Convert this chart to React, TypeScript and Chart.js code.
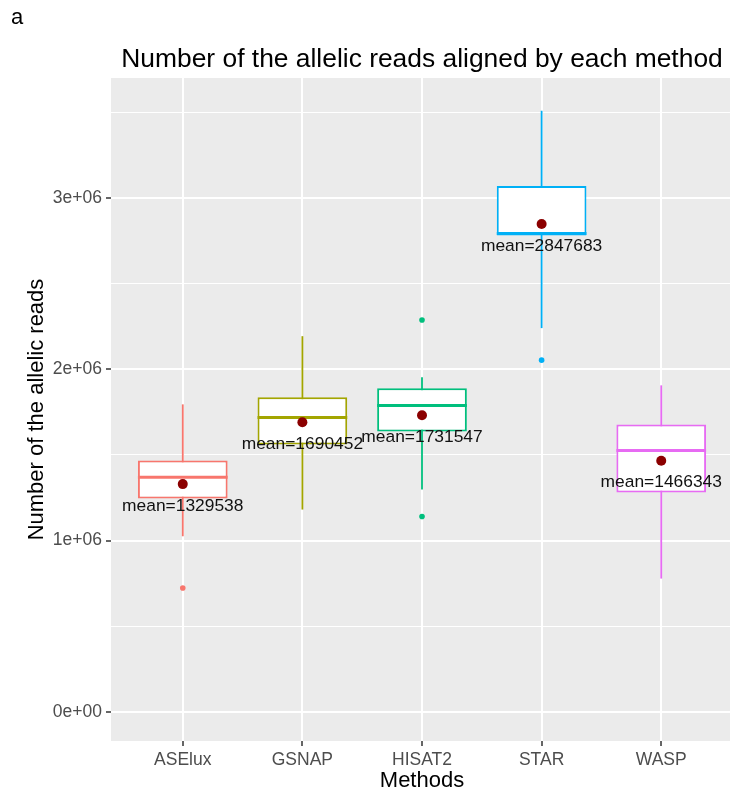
import React, { useEffect, useRef } from "react";
import { Chart, registerables } from "chart.js";

Chart.register(...registerables);

// ---- data ----
const METHODS = ["ASElux", "GSNAP", "HISAT2", "STAR", "WASP"];
const COLORS = ["#F8766D", "#A3A500", "#00BF7D", "#00B0F6", "#E76BF3"];
const WHISKER_LOW = [1025000, 1181000, 1298000, 2240000, 778000];
const Q1 = [1246000, 1561000, 1637000, 2780000, 1281000];
const MEDIAN = [1370000, 1719000, 1789000, 2792000, 1526000];
const Q3 = [1468000, 1836000, 1889000, 3070000, 1678000];
const WHISKER_HIGH = [1795000, 2193000, 1953000, 3509000, 1906000];
const OUTLIERS = [[723000], [], [2287000, 1140000], [2053000], []];
const MEANS = [1329538, 1690452, 1731547, 2847683, 1466343];
const Y_MAJOR = [0, 1000000, 2000000, 3000000];
const Y_MAJOR_LABELS = ["0e+00", "1e+06", "2e+06", "3e+06"];
const Y_MINOR = [500000, 1500000, 2500000, 3500000];

const TITLE = "Number of the allelic reads aligned by each method";
const X_TITLE = "Methods";
const Y_TITLE = "Number of the allelic reads";
const PANEL_TAG = "a";

// ---- style ----
const FONT = '"Liberation Sans", Arial, sans-serif';
const BOX_HALF = 0.375;
const PANEL_BG = "#EBEBEB";
const TICK_TEXT = "#4D4D4D";

const decorPlugin = {
  id: "decor",
  beforeDraw(chart: any) {
    const { ctx, chartArea } = chart;
    ctx.save();
    ctx.fillStyle = PANEL_BG;
    ctx.fillRect(chartArea.left, chartArea.top, chartArea.right - chartArea.left, chartArea.bottom - chartArea.top);
    ctx.restore();
  },
  afterDatasetsDraw(chart: any) {
    const { ctx, scales } = chart;
    ctx.save();
    ctx.font = `17.4px ${FONT}`;
    ctx.fillStyle = "#111111";
    ctx.textAlign = "center";
    ctx.textBaseline = "middle";
    MEANS.forEach((m, i) => {
      const x = scales.x.getPixelForValue(i + 1);
      const y = scales.y.getPixelForValue(m);
      ctx.fillText(`mean=${m}`, x, y + 22);
    });
    ctx.restore();
  },
  afterDraw(chart: any) {
    const { ctx, chartArea } = chart;
    ctx.save();
    ctx.fillStyle = "#000";
    ctx.textBaseline = "middle";
    ctx.textAlign = "center";
    ctx.font = `26.4px ${FONT}`;
    ctx.fillText(TITLE, (chartArea.left + chartArea.right) / 2, 60);
    ctx.textAlign = "left";
    ctx.font = `22px ${FONT}`;
    ctx.fillText(PANEL_TAG, 11, 18);
    ctx.restore();
  },
};

export default function App() {
  const ref = useRef<HTMLCanvasElement | null>(null);

  useEffect(() => {
    if (!ref.current) return;

    const whiskers = METHODS.map((m, i) => ({
      type: "line" as const,
      label: `${m} whisker`,
      data: [
        { x: i + 1, y: WHISKER_LOW[i] },
        { x: i + 1, y: WHISKER_HIGH[i] },
      ],
      borderColor: COLORS[i],
      borderWidth: 1.8,
      pointRadius: 0,
      order: 5,
    }));

    const medians = METHODS.map((m, i) => ({
      type: "line" as const,
      label: `${m} median`,
      data: [
        { x: i + 1 - BOX_HALF, y: MEDIAN[i] },
        { x: i + 1 + BOX_HALF, y: MEDIAN[i] },
      ],
      borderColor: COLORS[i],
      borderWidth: 3,
      pointRadius: 0,
      order: 3,
    }));

    const outlierPoints: { x: number; y: number }[] = [];
    const outlierColors: string[] = [];
    OUTLIERS.forEach((arr, i) =>
      arr.forEach((v) => {
        outlierPoints.push({ x: i + 1, y: v });
        outlierColors.push(COLORS[i]);
      })
    );

    const chart = new Chart(ref.current, {
      type: "bar",
      data: {
        datasets: [
          ...whiskers,
          {
            type: "bar" as const,
            label: "box",
            data: METHODS.map((_, i) => ({ x: i + 1, y: [Q1[i], Q3[i]] })) as any,
            backgroundColor: "#FFFFFF",
            borderColor: COLORS,
            borderWidth: 2,
            borderSkipped: false,
            barPercentage: 0.75,
            categoryPercentage: 1,
            order: 4,
          },
          ...medians,
          {
            type: "scatter" as const,
            label: "outliers",
            data: outlierPoints,
            pointBackgroundColor: outlierColors,
            pointBorderWidth: 0,
            pointRadius: 2.8,
            order: 2,
          },
          {
            type: "scatter" as const,
            label: "means",
            data: MEANS.map((m, i) => ({ x: i + 1, y: m })),
            pointBackgroundColor: "#8B0000",
            pointBorderWidth: 0,
            pointRadius: 5,
            order: 1,
          },
        ] as any,
      },
      options: {
        animation: false,
        responsive: false,
        devicePixelRatio: 1,
        layout: { padding: { top: 78, left: 0, right: 0, bottom: 0 } },
        plugins: {
          legend: { display: false },
          tooltip: { enabled: false },
          title: { display: false },
        },
        scales: {
          x: {
            type: "linear",
            min: 0.4,
            max: 5.6,
            offset: false,
            afterBuildTicks: (s: any) => {
              s.ticks = METHODS.map((_, i) => ({ value: i + 1 }));
            },
            afterFit: (s: any) => {
              s.height = 55;
              s.paddingLeft = 0;
              s.paddingRight = 0;
            },
            ticks: {
              autoSkip: false,
              maxRotation: 0,
              padding: 3.5,
              color: TICK_TEXT,
              font: { family: FONT, size: 17.5 },
              callback: (v: any) => METHODS[Math.round(Number(v)) - 1] ?? "",
            },
            grid: {
              offset: false,
              color: "#FFFFFF",
              lineWidth: 2,
              tickLength: 5,
              tickColor: "#333333",
              tickWidth: 1.5,
            },
            border: { display: false },
            title: {
              display: true,
              text: X_TITLE,
              color: "#000",
              font: { family: FONT, size: 22 },
              padding: { top: 0, bottom: 1.8 },
            },
          },
          y: {
            type: "linear",
            min: -170000,
            max: 3700000,
            afterBuildTicks: (s: any) => {
              s.ticks = [...Y_MAJOR, ...Y_MINOR].sort((a, b) => a - b).map((v) => ({ value: v }));
            },
            afterFit: (s: any) => {
              s.width = 111;
            },
            ticks: {
              autoSkip: false,
              padding: 4,
              color: TICK_TEXT,
              font: { family: FONT, size: 17.5 },
              callback: (v: any) => {
                const idx = Y_MAJOR.indexOf(Number(v));
                return idx >= 0 ? Y_MAJOR_LABELS[idx] : "";
              },
            },
            grid: {
              color: "#FFFFFF",
              lineWidth: (c: any) => (Y_MAJOR.includes(c.tick?.value) ? 2 : 1),
              tickLength: 5,
              tickColor: (c: any) => (Y_MAJOR.includes(c.tick?.value) ? "#333333" : "rgba(0,0,0,0)"),
              tickWidth: 1.5,
            },
            border: { display: false },
            title: {
              display: true,
              text: Y_TITLE,
              color: "#000",
              font: { family: FONT, size: 22 },
              padding: { top: 23.8, bottom: 0 },
            },
          },
        },
      } as any,
      plugins: [decorPlugin],
    });

    return () => chart.destroy();
  }, []);

  return (
    <div style={{ position: "fixed", left: 0, top: 0, width: 730, height: 796, overflow: "hidden", background: "#FFFFFF" }}>
      <canvas ref={ref} width={738} height={796} style={{ display: "block" }} />
    </div>
  );
}
